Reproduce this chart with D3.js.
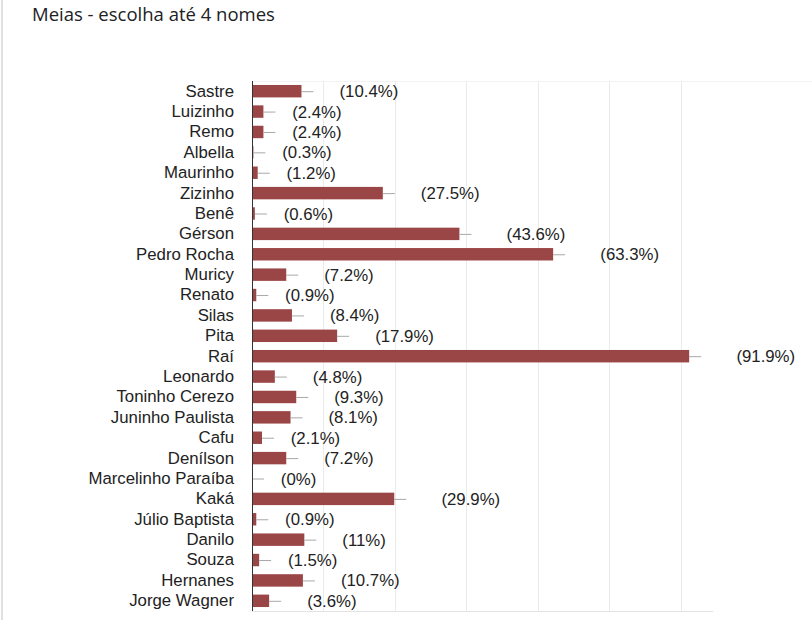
<!DOCTYPE html>
<html>
<head>
<meta charset="utf-8">
<script src="https://cdn.jsdelivr.net/npm/d3@7"></script>
<style>
  html, body { margin: 0; padding: 0; background: #fff; }
  svg { display: block; }
</style>
</head>
<body>
<svg id="chart" width="812" height="620"></svg>
<script>
const title = "Meias - escolha até 4 nomes";
const totalResponses = 333;
const players = ["Sastre","Luizinho","Remo","Albella","Maurinho","Zizinho","Benê","Gérson","Pedro Rocha","Muricy","Renato","Silas","Pita","Raí","Leonardo","Toninho Cerezo","Juninho Paulista","Cafu","Denílson","Marcelinho Paraíba","Kaká","Júlio Baptista","Danilo","Souza","Hernanes","Jorge Wagner"];
const percents = [10.4, 2.4, 2.4, 0.3, 1.2, 27.5, 0.6, 43.6, 63.3, 7.2, 0.9, 8.4, 17.9, 91.9, 4.8, 9.3, 8.1, 2.1, 7.2, 0, 29.9, 0.9, 11, 1.5, 10.7, 3.6];
const gridCounts = [50, 100, 150, 200, 250, 300];

const svg = d3.select("#chart");
const plotLeft = 252, plotRight = 713, plotTop = 81, plotBottom = 611;
const fontFam = "'Liberation Sans', Arial, sans-serif";

// card border
svg.append("line").attr("x1", 2).attr("x2", 2).attr("y1", 0).attr("y2", 620)
  .attr("stroke", "#e2dfe0").attr("stroke-width", 2);

svg.append("text").attr("x", 32).attr("y", 21)
  .attr("font-family", "'Open Sans', Roboto, sans-serif").attr("font-size", 18.5)
  .attr("fill", "#202124").text(title);

const x = d3.scaleLinear().domain([0, 322.7]).range([plotLeft, plotRight]);
const y = d3.scaleBand().domain(players).range([plotTop, plotBottom]).paddingInner(0.39).paddingOuter(0.195);
const counts = percents.map(p => p * totalResponses / 100);

// top border line
svg.append("line").attr("x1", plotLeft).attr("x2", 812).attr("y1", plotTop + 0.5).attr("y2", plotTop + 0.5)
  .attr("stroke", "#f2f2f2");
// gridlines
svg.append("g").selectAll("line").data(gridCounts).join("line")
  .attr("x1", d => Math.round(x(d)) + 0.5).attr("x2", d => Math.round(x(d)) + 0.5)
  .attr("y1", plotTop).attr("y2", plotBottom)
  .attr("stroke", "#ebebeb");
// bottom line
svg.append("line").attr("x1", plotLeft).attr("x2", plotRight).attr("y1", plotBottom + 0.5).attr("y2", plotBottom + 0.5)
  .attr("stroke", "#e3e3e3");

// bars
svg.append("g").selectAll("rect").data(players).join("rect")
  .attr("x", plotLeft)
  .attr("y", d => y(d))
  .attr("width", (d, i) => x(counts[i]) - plotLeft)
  .attr("height", y.bandwidth())
  .attr("fill", "#9b4646");

// annotation stems
const stem = 12;
svg.append("g").selectAll("line").data(players).join("line")
  .attr("x1", (d, i) => x(counts[i]))
  .attr("x2", (d, i) => x(counts[i]) + stem)
  .attr("y1", d => y(d) + y.bandwidth() / 2 + 0.5)
  .attr("y2", d => y(d) + y.bandwidth() / 2 + 0.5)
  .attr("stroke", "#a8a8a8");

// percent labels (count part erased in the reference, so leave its space)
const digitW = 9.2, spaceW = 4.6;
svg.append("g").selectAll("text").data(players).join("text")
  .attr("x", (d, i) => {
    const digits = String(Math.round(counts[i])).length;
    return x(counts[i]) + stem + 3 + digits * digitW + spaceW;
  })
  .attr("y", d => y(d) + y.bandwidth() / 2)
  .attr("dy", "0.36em")
  .attr("font-family", fontFam).attr("font-size", 16.8).attr("fill", "#222")
  .text((d, i) => `(${percents[i]}%)`);

// category axis
const axis = svg.append("g").attr("transform", `translate(${plotLeft},0)`)
  .call(d3.axisLeft(y).tickSize(0).tickPadding(18));
axis.select(".domain").attr("stroke", "#333").attr("d", `M0.5,${plotTop}V${plotBottom}`);
axis.selectAll("text").attr("font-family", fontFam).attr("font-size", 16.8).attr("fill", "#222");
</script>
</body>
</html>
